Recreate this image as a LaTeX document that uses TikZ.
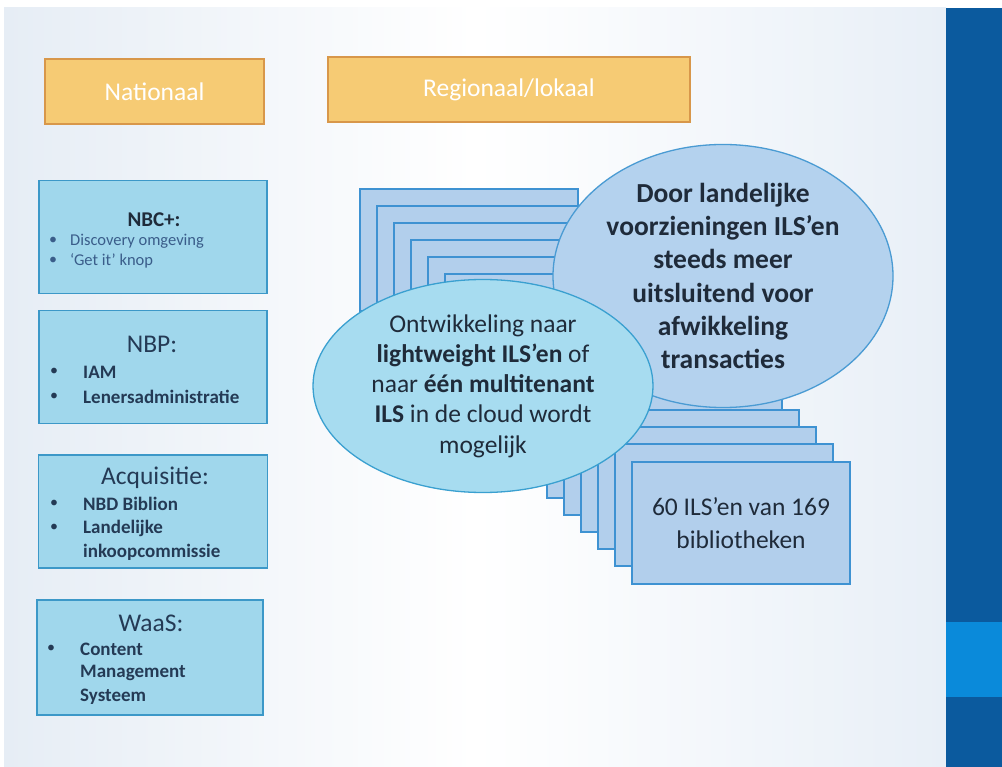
\documentclass[tikz,border=0pt]{standalone}
\usepackage{fontspec}
\setmainfont{Carlito}
\usetikzlibrary{shapes.geometric}
\definecolor{slideL}{HTML}{E6EDF5}
\definecolor{slideR}{HTML}{E8EFF7}
\definecolor{bardark}{HTML}{0B5A9E}
\definecolor{barlight}{HTML}{0A8ADA}
\definecolor{hdrfill}{HTML}{F6CB74}
\definecolor{hdrdraw}{HTML}{D8974A}
\definecolor{lboxfill}{HTML}{A0D7EC}
\definecolor{lboxdraw}{HTML}{3C98C8}
\definecolor{stkfill}{HTML}{B2CFEC}
\definecolor{stkdraw}{HTML}{3E92D2}
\definecolor{doorfill}{HTML}{B4D2EE}
\definecolor{doordraw}{HTML}{4A9BD3}
\definecolor{ontwfill}{HTML}{A7DCF0}
\definecolor{ontwdraw}{HTML}{3AA0D0}
\definecolor{txtdark}{HTML}{1F2B3A}
\definecolor{txtnavy}{HTML}{243A55}
\definecolor{txtblue}{HTML}{3A5D8A}
\tikzset{
  hdr/.style={draw=hdrdraw, line width=1.6pt, fill=hdrfill, text=white,
    font=\fontsize{25.5}{28}\selectfont, inner sep=0pt},
  lbox/.style={draw=lboxdraw, line width=1.3pt, fill=lboxfill, minimum height=113pt, inner sep=0pt},
  btitle/.style={text=txtnavy, font=\fontsize{25.5}{28}\selectfont, inner sep=0pt},
  bitem/.style={text=txtnavy, font=\fontsize{19}{21}\selectfont\bfseries, anchor=west, inner sep=0pt},
  bdot/.style={text=txtnavy, font=\fontsize{16}{18}\selectfont, inner sep=0pt},
  stk/.style={draw=stkdraw, line width=1.1pt, fill=stkfill, minimum width=218pt, minimum height=122pt, inner sep=0pt},
  bubble/.style={ellipse, line width=1.3pt, inner sep=0pt, align=center, text=txtdark},
}
\begin{document}
\begin{tikzpicture}[x=1pt,y=-1pt]
\useasboundingbox (0,0) rectangle (1002,767);
\fill[white] (0,0) rectangle (1002,767);
\shade[left color=slideL, right color=slideR, middle color=white] (4,8) rectangle (946,767);
\fill[bardark] (946,8) rectangle (1002,767);
\fill[barlight] (946,622) rectangle (1002,697);

% headers
\node[hdr, minimum width=219pt, minimum height=65pt] (nat) at (154.5,91.5) {Nationaal};
\node[hdr, minimum width=362pt, minimum height=65pt] (reg) at (509,89.5) {Regionaal/lokaal};

% left boxes
\node[lbox, minimum width=228pt] (nbc) at (153,237) {};
\node[text=txtdark, font=\fontsize{21}{23}\selectfont\bfseries, inner sep=0pt] (nbct) at (154,220) {NBC+:};
\node[bdot, text=txtblue] (nbcb1) at (53,241) {•};
\node[bitem, text=txtblue, font=\fontsize{16.5}{18}\selectfont] (nbci1) at (70,241) {Discovery omgeving};
\node[bdot, text=txtblue] (nbcb2) at (53,261) {•};
\node[bitem, text=txtblue, font=\fontsize{16.5}{18}\selectfont] (nbci2) at (70,261) {‘Get it’ knop};

\node[lbox, minimum width=228pt] (nbp) at (153,367) {};
\node[btitle] (nbpt) at (152,344) {NBP:};
\node[bdot] (nbpb1) at (54,372) {•};
\node[bitem] (nbpi1) at (83,372) {IAM};
\node[bdot] (nbpb2) at (54,397) {•};
\node[bitem] (nbpi2) at (83,397) {Lenersadministratie};

\node[lbox, minimum width=229pt] (acq) at (153,511.5) {};
\node[btitle] (acqt) at (155,478) {Acquisitie:};
\node[bdot] (acqb1) at (54,504) {•};
\node[bitem] (acqi1) at (83,504) {NBD Biblion};
\node[bdot] (acqb2) at (54,528) {•};
\node[bitem] (acqi2) at (83,528) {Landelijke};
\node[bitem] (acqi3) at (83,552) {inkoopcommissie};

\node[lbox, minimum width=226pt, minimum height=115pt] (waas) at (150,657.5) {};
\node[btitle] (waast) at (151,623) {WaaS:};
\node[bdot] (waasb1) at (51,649) {•};
\node[bitem] (waasi1) at (80,649) {Content};
\node[bitem] (waasi2) at (80,673) {Management};
\node[bitem] (waasi3) at (80,697) {Systeem};

% stacked rectangles
\foreach \i in {0,...,15} {
  \node[stk] (s\i) at ({469+17*\i},{250+17*\i}) {};
}
\node[stk, align=center, text=txtdark, font=\fontsize{25.5}{33}\selectfont] (front) at (741,523) {60 ILS’en van 169\\bibliotheken};

% ellipses
\node[bubble, draw=doordraw, fill=doorfill, minimum width=340pt, minimum height=242pt,
  font=\fontsize{27.5}{33.3}\selectfont\bfseries] (door) at (723,276)
  {Door landelijke\\voorzieningen ILS’en\\steeds meer\\uitsluitend voor\\afwikkeling\\transacties};
\node[bubble, draw=ontwdraw, fill=ontwfill, minimum width=340pt, minimum height=213pt,
  font=\fontsize{25.5}{30.3}\selectfont] (ontw) at (483,386)
  {Ontwikkeling naar\\\textbf{lightweight ILS’en} of\\naar \textbf{één multitenant}\\\textbf{ILS} in de cloud wordt\\mogelijk};
\end{tikzpicture}
\end{document}
